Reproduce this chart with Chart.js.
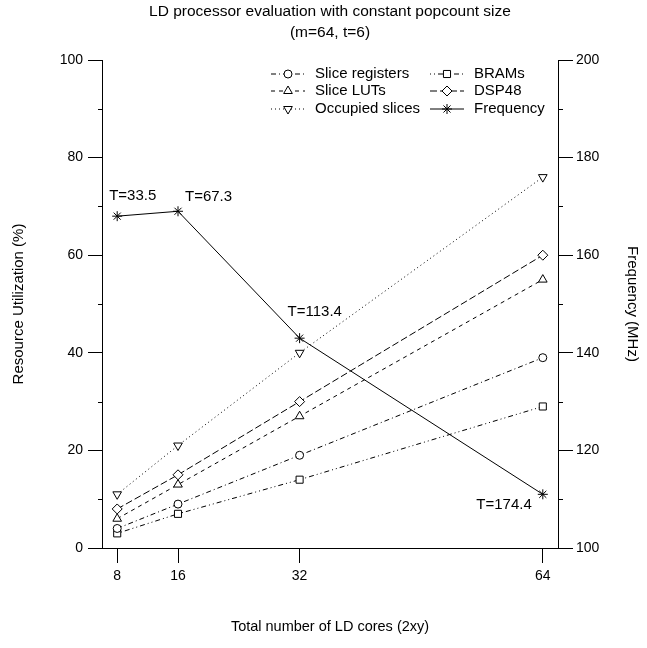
<!DOCTYPE html>
<html>
<head>
<meta charset="utf-8">
<script src="https://cdn.jsdelivr.net/npm/chart.js@4/dist/chart.umd.min.js"></script>
<style>
  html, body { margin: 0; padding: 0; background: #fff; }
  #wrap { width: 647px; height: 648px; }
</style>
</head>
<body>
<div id="wrap"><canvas id="c"></canvas></div>
<script>
const cores = [8, 16, 32, 64];
const xTicks = [8, 16, 32, 64];
const sliceRegisters = [4, 9, 19, 39];
const brams = [3, 7, 14, 29];
const sliceLUTs = [6, 13, 27, 55];
const dsp48 = [8, 15, 30, 60];
const occupiedSlices = [11, 21, 40, 76];
const frequency = [168, 169, 143, 111];
const throughput = ["T=33.5", "T=67.3", "T=113.4", "T=174.4"];

const FONT = "'Liberation Sans', Arial, Helvetica, sans-serif";
const INK = "#000";

const pts = ys => cores.map((x, i) => ({ x, y: ys[i] }));

function series(label, ys, dash, style, radius, extra) {
  return Object.assign({
    label,
    data: pts(ys),
    borderColor: INK,
    borderWidth: 1,
    borderDash: dash,
    pointStyle: style,
    pointRadius: radius,
    pointBorderColor: INK,
    pointBackgroundColor: "#fff",
    pointBorderWidth: 1,
    fill: false,
    tension: 0,
    yAxisID: "y",
  }, extra || {});
}

// legend slots: [column, row]
const legendSlot = [[0, 0], [1, 0], [0, 1], [1, 1], [0, 2], [1, 2]];

// offsets for the T= labels: dx, dy, align
const labelPos = [[-8, -20, "left"], [7, -14, "left"], [-12, -26, "left"], [-11, 11, "right"]];

const extras = {
  id: "extras",
  afterDatasetsDraw(chart) {
    const { ctx, scales } = chart;
    const y = scales.y, y2 = scales.y2;
    ctx.save();
    ctx.strokeStyle = INK;
    ctx.lineWidth = 1;
    ctx.setLineDash([]);
    // minor ticks
    for (let v = 10; v < 100; v += 20) {
      const py = Math.round(y.getPixelForValue(v)) + 0.5;
      ctx.beginPath(); ctx.moveTo(y.right - 4, py); ctx.lineTo(y.right, py); ctx.stroke();
    }
    for (let v = 110; v < 200; v += 20) {
      const py = Math.round(y2.getPixelForValue(v)) + 0.5;
      ctx.beginPath(); ctx.moveTo(y2.left, py); ctx.lineTo(y2.left + 5, py); ctx.stroke();
    }

    // throughput labels next to the frequency points
    ctx.fillStyle = INK;
    ctx.font = "15px " + FONT;
    ctx.textBaseline = "middle";
    const fMeta = chart.getDatasetMeta(5);
    fMeta.data.forEach((p, i) => {
      const [dx, dy, al] = labelPos[i];
      ctx.textAlign = al;
      ctx.fillText(throughput[i], p.x + dx, p.y + dy);
    });

    // legend, two columns
    const colX = [288, 447], rowY = [74, 91, 109], half = 17, textGap = 27;
    chart.data.datasets.forEach((ds, i) => {
      const [c, r] = legendSlot[i];
      const cx = colX[c], cy = rowY[r];
      ctx.strokeStyle = INK;
      ctx.setLineDash(ds.borderDash || []);
      ctx.beginPath(); ctx.moveTo(cx - half, cy); ctx.lineTo(cx + half, cy); ctx.stroke();
      ctx.setLineDash([]);
      ctx.fillStyle = "#fff";
      if (Chart.helpers && Chart.helpers.drawPoint) {
        Chart.helpers.drawPoint(ctx, {
          pointStyle: ds.pointStyle, radius: ds.pointRadius,
          rotation: ds.pointRotation || 0, borderWidth: 1,
        }, cx, cy);
      }
      ctx.fillStyle = INK;
      ctx.textAlign = "left";
      ctx.fillText(ds.label, cx + textGap, cy);
    });
    ctx.restore();
  },
};

new Chart(document.getElementById("c"), {
  type: "line",
  data: {
    datasets: [
      series("Slice registers", sliceRegisters, [5, 3, 1, 3], "circle", 4),
      series("BRAMs", brams, [1, 3, 1, 3, 5, 3], "rect", 5),
      series("Slice LUTs", sliceLUTs, [4, 4], "triangle", 5),
      series("DSP48", dsp48, [7, 3], "rectRot", 5),
      series("Occupied slices", occupiedSlices, [1, 3], "triangle", 5, { pointRotation: 180 }),
      series("Frequency", frequency, [], "star", 5, { yAxisID: "y2" }),
    ],
  },
  options: {
    responsive: true,
    maintainAspectRatio: false,
    animation: false,
    devicePixelRatio: 1,
    layout: { padding: 0 },
    plugins: {
      legend: { display: false },
      tooltip: { enabled: false },
      title: {
        display: true,
        fullSize: false,
        text: ["LD processor evaluation with constant popcount size", "(m=64, t=6)"],
        color: INK,
        font: { family: FONT, size: 15.5, weight: "normal", lineHeight: 1.3 },
        padding: { top: 2, bottom: 17.7 },
      },
    },
    scales: {
      x: {
        type: "linear",
        min: 6,
        max: 66,
        afterBuildTicks: s => { s.ticks = xTicks.map(v => ({ value: v })); },
        afterFit: s => { s.height = 100; },
        ticks: { color: INK, font: { family: FONT, size: 14 }, padding: 5, autoSkip: false, maxRotation: 0 },
        grid: { drawOnChartArea: false, drawTicks: true, tickLength: 15, color: INK, lineWidth: 1 },
        border: { display: true, color: INK, width: 1 },
        title: {
          display: true, text: "Total number of LD cores (2xy)", color: INK,
          font: { family: FONT, size: 14.5 }, padding: { top: 0, bottom: 12 },
        },
      },
      y: {
        position: "left",
        min: 0,
        max: 100,
        ticks: { stepSize: 20, color: INK, font: { family: FONT, size: 14 }, padding: 5 },
        afterFit: s => { s.width = 102; },
        grid: { drawOnChartArea: false, drawTicks: true, tickLength: 14, color: INK, lineWidth: 1 },
        border: { display: true, color: INK, width: 1 },
        title: {
          display: true, text: "Resource Utilization (%)", color: INK,
          font: { family: FONT, size: 15 }, padding: { top: 10, bottom: 0 },
        },
      },
      y2: {
        position: "right",
        min: 100,
        max: 200,
        ticks: { stepSize: 20, color: INK, font: { family: FONT, size: 14 }, padding: 3 },
        afterFit: s => { s.width = 89; },
        grid: { drawOnChartArea: false, drawTicks: true, tickLength: 15, color: INK, lineWidth: 1 },
        border: { display: true, color: INK, width: 1 },
        title: {
          display: true, text: "Frequency (MHz)", color: INK,
          font: { family: FONT, size: 15 }, padding: { top: 6, bottom: 0 },
        },
      },
    },
  },
  plugins: [extras],
});
</script>
</body>
</html>
